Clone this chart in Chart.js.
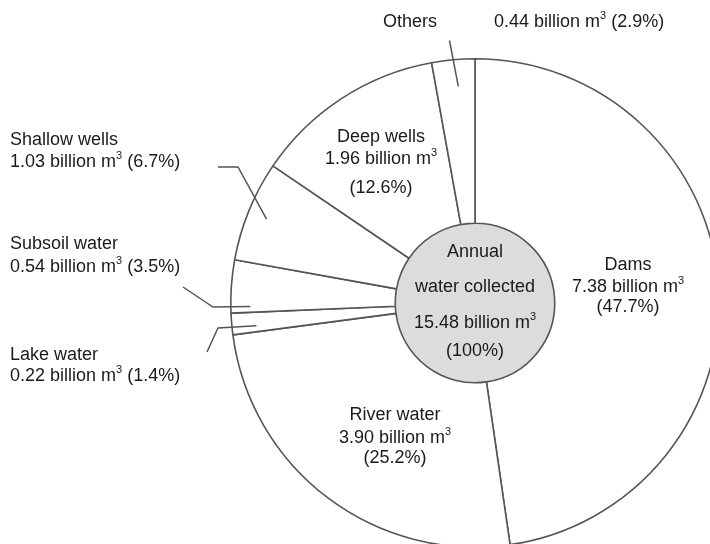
<!DOCTYPE html>
<html>
<head>
<meta charset="utf-8">
<script src="https://cdn.jsdelivr.net/npm/chart.js@4.4.0/dist/chart.umd.min.js"></script>
<style>
  html, body { margin: 0; padding: 0; background: #fff; overflow: hidden; width: 710px; height: 544px; }
  #wrap { position: absolute; left: 0; top: 0; }
</style>
</head>
<body>
<div id="wrap"><canvas id="water_chart" width="950" height="610"></canvas></div>
<script>
// data, clockwise from the top
var categories = ['Dams', 'River water', 'Lake water', 'Subsoil water', 'Shallow wells', 'Deep wells', 'Others'];
var volumes = [7.38, 3.90, 0.22, 0.54, 1.03, 1.96, 0.44];
var shares = ['47.7%', '25.2%', '1.4%', '3.5%', '6.7%', '12.6%', '2.9%'];
var totalVolume = 15.48;
var totalShare = '100%';

// where each label goes (page pixels)
var labelLayout = [
  { mode: 'three', x: 628, y: [270, 292, 312] },
  { mode: 'three', x: 395, y: [420, 443, 463] },
  { mode: 'two', x: 10, y: [360, 381], frac: 0.31, rf: 0.90, path: [[207, 352], [218, 328]] },
  { mode: 'two', x: 10, y: [249, 272], frac: 0.12, rf: 0.92, path: [[183, 287], [213, 307]] },
  { mode: 'two', x: 10, y: [145, 167], frac: 0.49, rf: 0.92, path: [[218, 167], [238, 167]] },
  { mode: 'three', x: 381, y: [142, 164, 193] },
  { mode: 'split', x: 383, x2: 494, y: [27], frac: 0.57, rf: 0.89, out: 1.08 }
];

var FONT = '18px "Liberation Sans", Arial, sans-serif';
var SUP_FONT = '11px "Liberation Sans", Arial, sans-serif';
var TEXT_COLOUR = '#1a1a1a';
var LINE_COLOUR = '#555';

function volText(v) {
  return v.toFixed(2) + ' billion m\u00b3';
}

// draws text where ³ is shown as a raised small 3
function drawRich(ctx, str, x, y, align) {
  var pieces = str.split('\u00b3');
  var segs = [];
  for (var i = 0; i < pieces.length; i++) {
    if (pieces[i] !== '') segs.push({ t: pieces[i], sup: false });
    if (i < pieces.length - 1) segs.push({ t: '3', sup: true });
  }
  var total = 0;
  segs.forEach(function (s) {
    ctx.font = s.sup ? SUP_FONT : FONT;
    s.w = ctx.measureText(s.t).width;
    total += s.w;
  });
  var cx = x;
  if (align === 'center') cx = x - total / 2;
  ctx.textAlign = 'left';
  ctx.textBaseline = 'alphabetic';
  segs.forEach(function (s) {
    ctx.font = s.sup ? SUP_FONT : FONT;
    ctx.fillText(s.t, cx, s.sup ? y - 8 : y);
    cx += s.w;
  });
}

var labelPlugin = {
  id: 'waterLabels',
  afterDraw: function (chart) {
    var ctx = chart.ctx;
    var arcs = chart.getDatasetMeta(0).data;
    var cx = arcs[0].x, cy = arcs[0].y, R = arcs[0].outerRadius;
    ctx.save();
    ctx.fillStyle = TEXT_COLOUR;
    ctx.strokeStyle = LINE_COLOUR;
    ctx.lineWidth = 1.5;

    // centre text
    drawRich(ctx, 'Annual', cx, cy - 46, 'center');
    drawRich(ctx, 'water collected', cx, cy - 11, 'center');
    drawRich(ctx, volText(totalVolume), cx, cy + 25, 'center');
    drawRich(ctx, '(' + totalShare + ')', cx, cy + 53, 'center');

    for (var i = 0; i < categories.length; i++) {
      var lay = labelLayout[i];
      var arc = arcs[i];
      if (lay.mode === 'three') {
        drawRich(ctx, categories[i], lay.x, lay.y[0], 'center');
        drawRich(ctx, volText(volumes[i]), lay.x, lay.y[1], 'center');
        drawRich(ctx, '(' + shares[i] + ')', lay.x, lay.y[2], 'center');
        continue;
      }
      var a = arc.startAngle + lay.frac * (arc.endAngle - arc.startAngle);
      var ax = cx + lay.rf * R * Math.cos(a);
      var ay = cy + lay.rf * R * Math.sin(a);
      if (lay.mode === 'two') {
        drawRich(ctx, categories[i], lay.x, lay.y[0], 'left');
        drawRich(ctx, volText(volumes[i]) + ' (' + shares[i] + ')', lay.x, lay.y[1], 'left');
        ctx.beginPath();
        ctx.moveTo(lay.path[0][0], lay.path[0][1]);
        for (var k = 1; k < lay.path.length; k++) ctx.lineTo(lay.path[k][0], lay.path[k][1]);
        ctx.lineTo(ax, ay);
        ctx.stroke();
      } else {
        drawRich(ctx, categories[i], lay.x, lay.y[0], 'left');
        drawRich(ctx, volText(volumes[i]) + ' (' + shares[i] + ')', lay.x2, lay.y[0], 'left');
        ctx.beginPath();
        ctx.moveTo(cx + lay.out * R * Math.cos(a - 0.02), cy + lay.out * R * Math.sin(a - 0.02));
        ctx.lineTo(ax, ay);
        ctx.stroke();
      }
    }
    ctx.restore();
  }
};

var waterChart = new Chart(document.getElementById('water_chart'), {
  type: 'doughnut',
  data: {
    labels: categories,
    datasets: [{
      data: volumes,
      backgroundColor: '#ffffff',
      borderColor: LINE_COLOUR,
      borderWidth: 1.6,
      weight: 165
    }, {
      data: [totalVolume],
      backgroundColor: '#dcdcdc',
      borderWidth: 0,
      weight: 80
    }]
  },
  options: {
    responsive: false,
    animation: false,
    cutout: 0,
    layout: { padding: { top: 58, bottom: 62 } },
    plugins: {
      legend: { display: false },
      tooltip: { enabled: false }
    }
  },
  plugins: [labelPlugin]
});
</script>
</body>
</html>
